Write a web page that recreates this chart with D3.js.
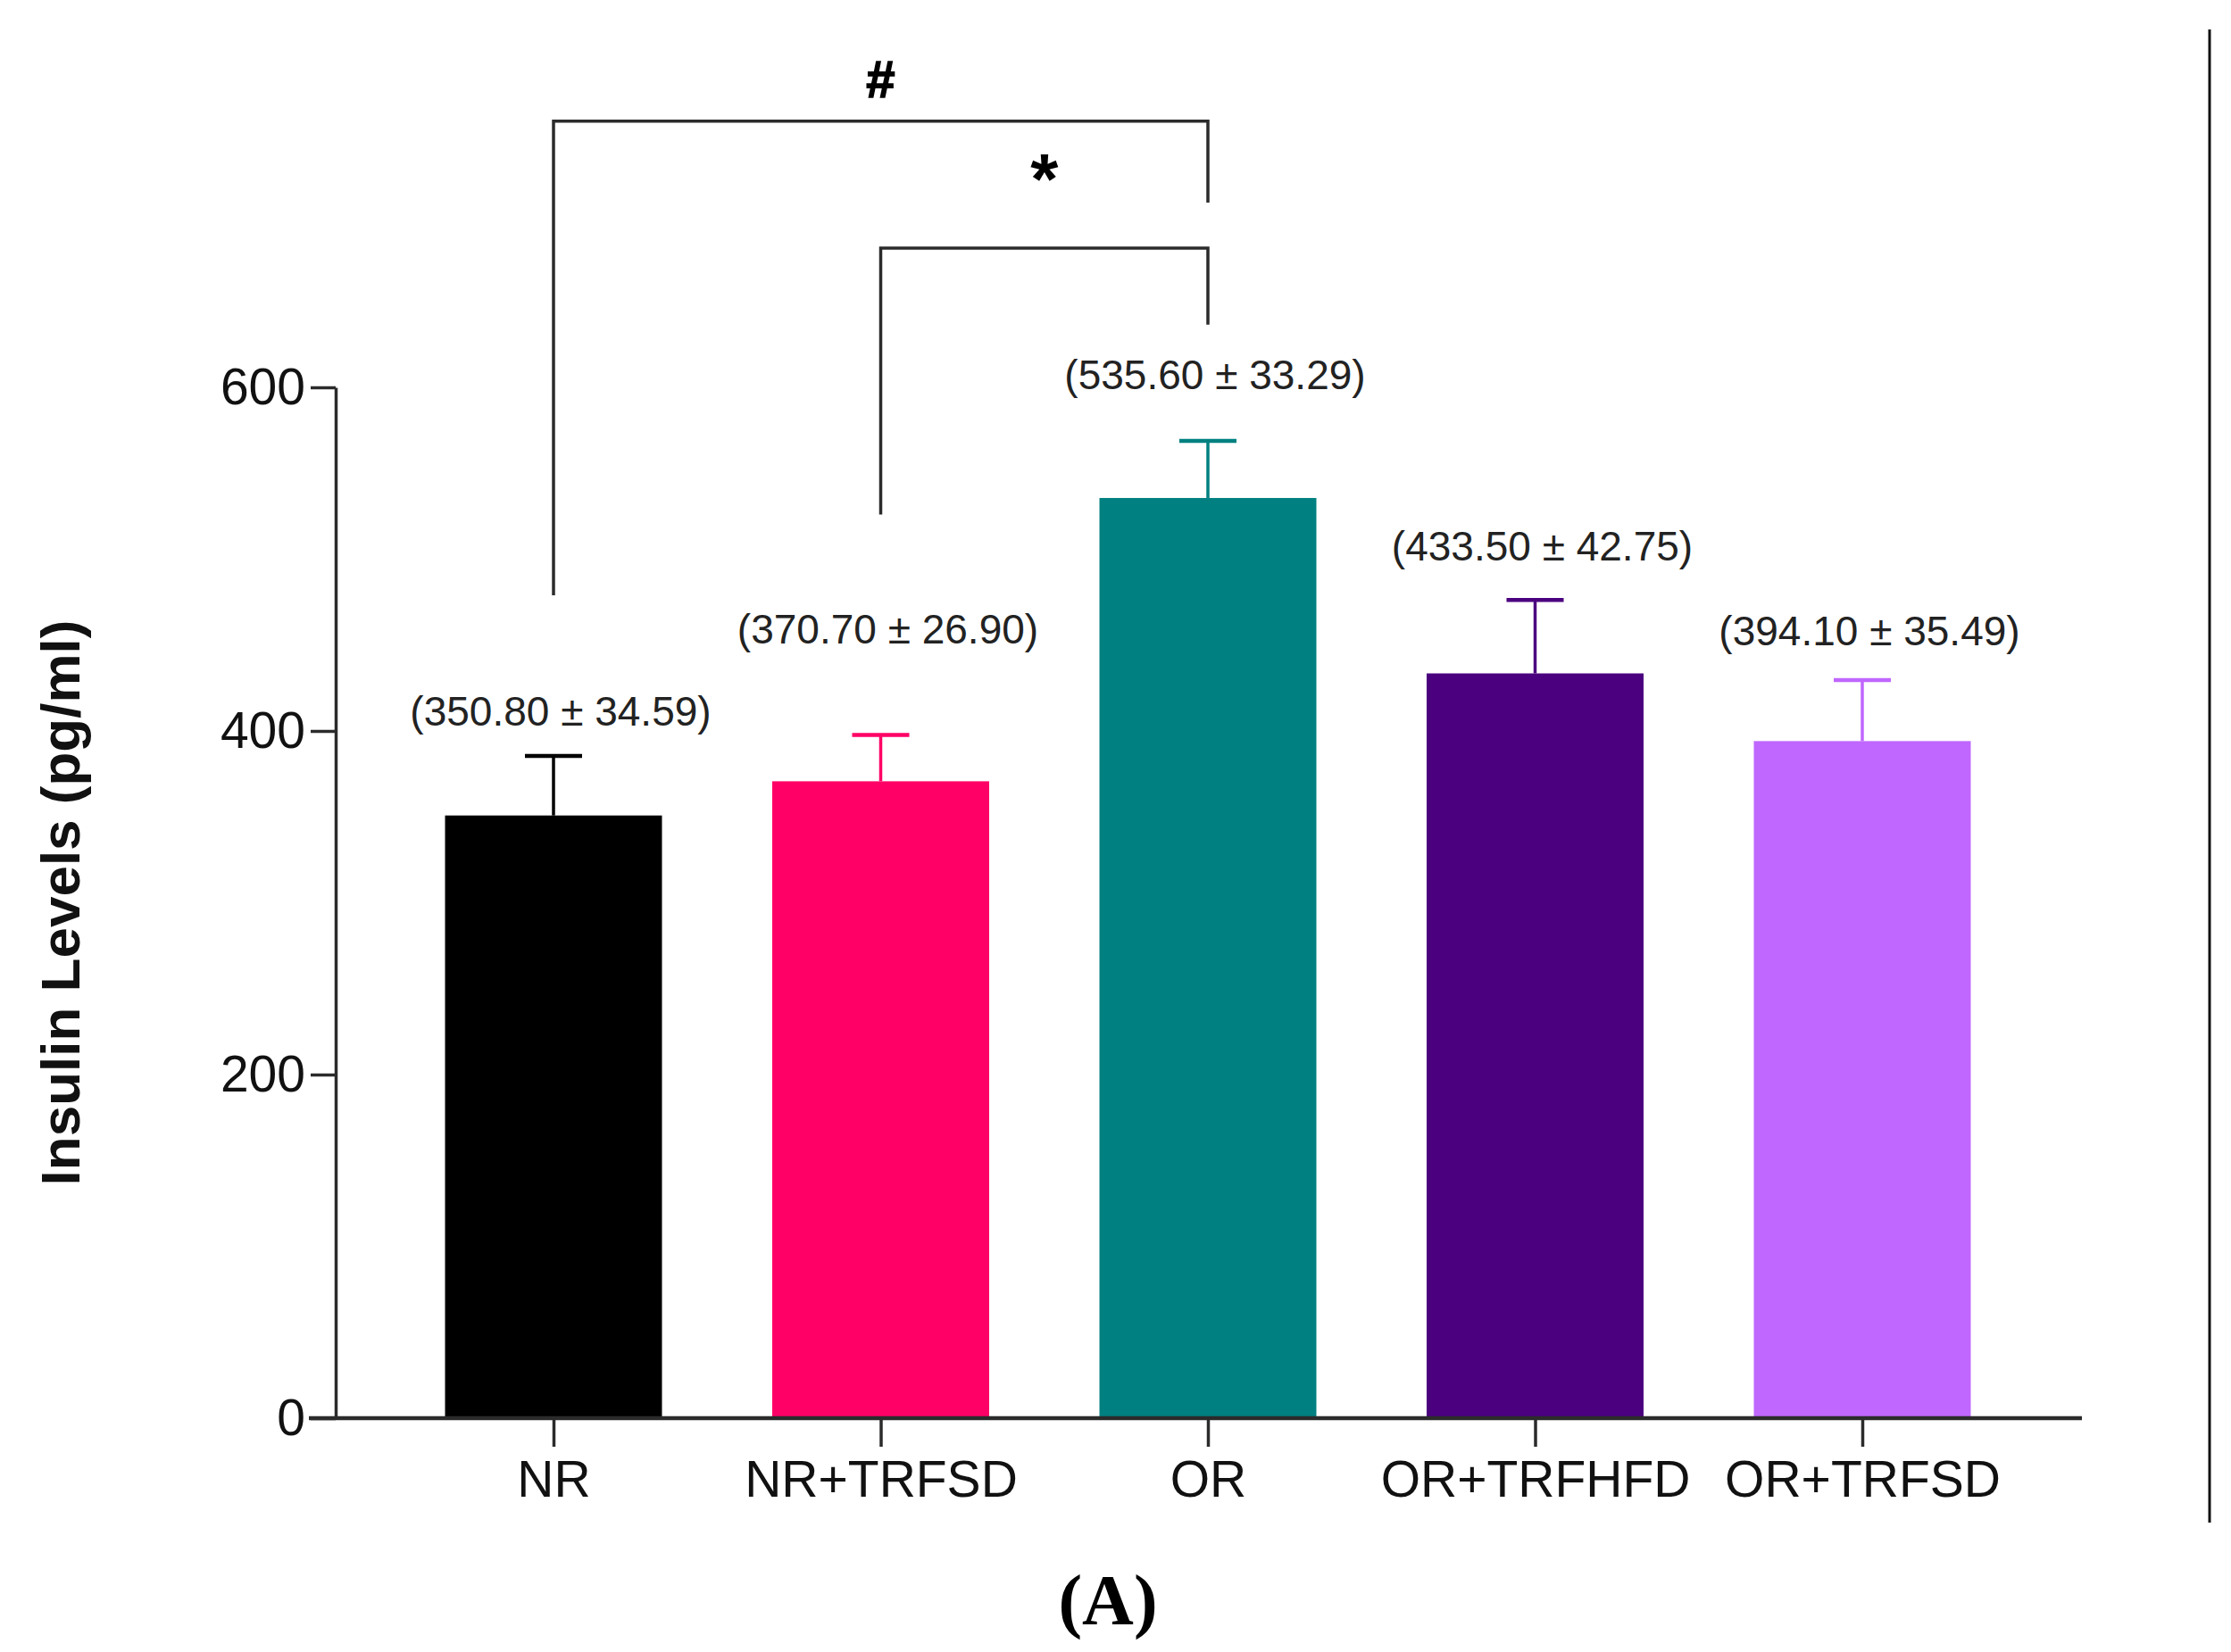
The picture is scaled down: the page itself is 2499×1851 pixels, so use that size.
<!DOCTYPE html>
<html>
<head>
<meta charset="utf-8">
<script src="https://cdn.jsdelivr.net/npm/d3@7"></script>
<style>
  html, body { margin: 0; padding: 0; background: #fff; }
  svg { display: block; }
</style>
</head>
<body>
<svg id="chart" width="2499" height="1851"></svg>
<script>
// ---- data ----
const categories = ["NR", "NR+TRFSD", "OR", "OR+TRFHFD", "OR+TRFSD"];
const means = [350.80, 370.70, 535.60, 433.50, 394.10];
const sems = [34.59, 26.90, 33.29, 42.75, 35.49];
const colors = ["#000000", "#ff0066", "#008080", "#4b007f", "#c067ff"];
const yTicks = [0, 200, 400, 600];
// level (in pg/ml units) at which each value label sits
const labelLevels = [403, 451, 599, 499, 450];
// significance brackets: from group, to group, bar level, leg ends, symbol
const brackets = [
  { from: "NR", to: "OR", top: 755, leftEnd: 479, rightEnd: 707.5, symbol: "#" },
  { from: "NR+TRFSD", to: "OR", top: 681, leftEnd: 526, rightEnd: 636.5, symbol: "*" }
];

// ---- layout ----
const SANS = "'Liberation Sans', Arial, Helvetica, sans-serif";
const SERIF = "'Liberation Serif', 'Times New Roman', Times, serif";
const svg = d3.select("#chart").style("font-family", SANS);
const x = d3.scalePoint().domain(categories).range([620, 2086]);
const step = x.step();
const barW = step * 0.663;
const y = d3.scaleLinear().domain([0, 600]).range([1589, 434]);
const axisColor = "#2b2b2b";

// bars
svg.selectAll("rect.bar").data(categories).join("rect")
  .attr("class", "bar")
  .attr("x", d => x(d) - barW / 2)
  .attr("width", barW)
  .attr("y", (d, i) => y(means[i]))
  .attr("height", (d, i) => y(0) - y(means[i]))
  .attr("fill", (d, i) => colors[i]);

// error bars (upper only)
const capW = 64;
categories.forEach((c, i) => {
  const cx = x(c);
  svg.append("line")
    .attr("x1", cx).attr("x2", cx)
    .attr("y1", y(means[i])).attr("y2", y(means[i] + sems[i]))
    .attr("stroke", colors[i]).attr("stroke-width", 3.5);
  svg.append("line")
    .attr("x1", cx - capW / 2).attr("x2", cx + capW / 2)
    .attr("y1", y(means[i] + sems[i])).attr("y2", y(means[i] + sems[i]))
    .attr("stroke", colors[i]).attr("stroke-width", 4.5);
});

// value labels
categories.forEach((c, i) => {
  svg.append("text")
    .attr("x", x(c) + 8)
    .attr("y", y(labelLevels[i]))
    .attr("text-anchor", "middle")
    .style("font-family", SANS)
    .attr("font-size", 46)
    .attr("fill", "#222")
    .text(`(${means[i].toFixed(2)} \u00B1 ${sems[i].toFixed(2)})`);
});

// y axis
const yAxis = d3.axisLeft(y).tickValues(yTicks).tickSize(28).tickPadding(6).tickSizeOuter(0);
const gy = svg.append("g").attr("transform", `translate(376,0)`).call(yAxis);
gy.select(".domain").attr("stroke", axisColor).attr("stroke-width", 3.5);
gy.selectAll(".tick line").attr("stroke", axisColor).attr("stroke-width", 3.5);
gy.selectAll(".tick text")
  .style("font-family", SANS)
  .attr("font-size", 57)
  .attr("fill", "#111");

// x axis
const xAxis = d3.axisBottom(x).tickSize(32).tickPadding(16).tickSizeOuter(0);
const gx = svg.append("g").attr("transform", `translate(0,${y(0)})`).call(xAxis);
gx.select(".domain").remove();
gx.selectAll(".tick line").attr("stroke", axisColor).attr("stroke-width", 3.5);
gx.selectAll(".tick text")
  .style("font-family", SANS)
  .attr("font-size", 57)
  .attr("fill", "#111");
svg.append("line")
  .attr("x1", 346).attr("x2", 2332)
  .attr("y1", y(0)).attr("y2", y(0))
  .attr("stroke", axisColor).attr("stroke-width", 4.5);

// y axis title
svg.append("text")
  .attr("transform", `translate(89,${(y(0) + y(600)) / 2}) rotate(-90)`)
  .attr("text-anchor", "middle")
  .style("font-family", SANS)
  .attr("font-size", 62)
  .attr("font-weight", "bold")
  .attr("fill", "#111")
  .text("Insulin Levels (pg/ml)");

// significance brackets
brackets.forEach(b => {
  const x1 = x(b.from), x2 = x(b.to);
  svg.append("path")
    .attr("d", `M${x1},${y(b.leftEnd)}V${y(b.top)}H${x2}V${y(b.rightEnd)}`)
    .attr("fill", "none")
    .attr("stroke", axisColor)
    .attr("stroke-width", 3.5);
  const t = svg.append("text")
    .attr("x", (x1 + x2) / 2)
    .attr("text-anchor", "middle")
    .style("font-family", SANS)
    .attr("font-weight", "bold")
    .attr("fill", "#000")
    .text(b.symbol);
  if (b.symbol === "#") {
    t.attr("font-size", 58).attr("y", y(b.top) - 27)
     .attr("stroke", "#000").attr("stroke-width", 1.5);
  } else {
    t.attr("font-size", 80).attr("y", y(b.top) - 50);
  }
});

// right border line
svg.append("line")
  .attr("x1", 2475).attr("x2", 2475)
  .attr("y1", 33).attr("y2", 1706)
  .attr("stroke", "#111").attr("stroke-width", 3);

// panel label
svg.append("text")
  .attr("x", 1241).attr("y", 1820)
  .attr("text-anchor", "middle")
  .style("font-family", SERIF)
  .attr("font-weight", "bold")
  .attr("font-size", 80)
  .attr("fill", "#000")
  .text("(A)");
</script>
</body>
</html>
